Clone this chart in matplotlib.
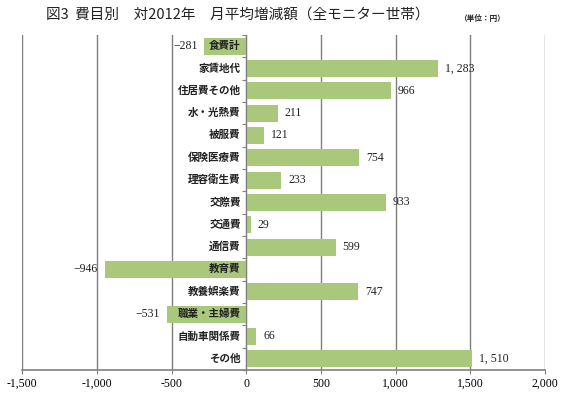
"""図3 費目別 対2012年 月平均増減額 — horizontal bar chart."""
import matplotlib
matplotlib.use("Agg")
import matplotlib.pyplot as plt
import numpy as np

plt.rcParams['font.family'] = ['Noto Sans CJK JP', 'DejaVu Sans']

CATEGORIES = ["食費計", "家賃地代", "住居費その他", "水・光熱費", "被服費",
              "保険医療費", "理容衛生費", "交際費", "交通費", "通信費",
              "教育費", "教養娯楽費", "職業・主婦費", "自動車関係費", "その他"]
VALUES = [-281, 1283, 966, 211, 121, 754, 233, 933, 29, 599,
          -946, 747, -531, 66, 1510]
XTICKS = [-1500, -1000, -500, 0, 500, 1000, 1500, 2000]
XTICK_LABELS = ["-1,500", "-1,000", "-500", "0", "500", "1,000", "1,500", "2,000"]

BAR_COLOR = "#a9c87b"
GRID_COLOR = "#7f7f7f"
SERIF = "Liberation Serif"

fig = plt.figure(figsize=(5.69, 3.96), dpi=100)
ax = fig.add_axes([0.039, 0.066, 0.919, 0.846])

y = np.arange(len(CATEGORIES))
ax.barh(y, VALUES, height=0.76, color=BAR_COLOR, zorder=2)

ax.set_xlim(XTICKS[0], XTICKS[-1])
ax.set_ylim(len(CATEGORIES) - 0.5, -0.5)

# vertical grid at each 500
ax.set_xticks(XTICKS)
ax.set_xticklabels(XTICK_LABELS, family=SERIF, fontsize=8.5)
ax.grid(axis="x", color=GRID_COLOR, linewidth=1.0, zorder=1)
ax.tick_params(axis="x", length=3, color=GRID_COLOR, pad=3)

# zero axis with boundary ticks
ax.spines["left"].set_position(("data", 0))
ax.spines["left"].set_color(GRID_COLOR)
ax.spines["left"].set_zorder(3)
ax.spines["bottom"].set_color(GRID_COLOR)
ax.spines["bottom"].set_linewidth(1.2)
ax.spines["top"].set_visible(False)
ax.spines["right"].set_visible(False)
ax.set_yticks(np.arange(len(CATEGORIES) + 1) - 0.5)
ax.set_yticklabels([])
ax.tick_params(axis="y", length=3, color=GRID_COLOR, direction="out")

for i, (cat, v) in enumerate(zip(CATEGORIES, VALUES)):
    ax.annotate(cat, xy=(0, i), xytext=(-4, 0), textcoords="offset points",
                ha="right", va="center", fontsize=7.6, fontweight="bold",
                color="#222222", zorder=4)
    label = f"{v:,}".replace(",", ", ")
    if v >= 0:
        ax.annotate(label, xy=(v, i), xytext=(5, 0), textcoords="offset points",
                    ha="left", va="center", fontsize=8.5, family=SERIF,
                    color="#222222")
    else:
        ax.annotate(label.replace("-", "−"), xy=(v, i), xytext=(-5, 0),
                    textcoords="offset points", ha="right", va="center",
                    fontsize=8.5, family=SERIF, color="#222222")

fig.text(0.417, 0.962, "図3  費目別　対2012年　月平均増減額（全モニター世帯）",
         ha="center", va="center", fontsize=10.5, color="#222222")
fig.text(0.848, 0.953, "（単位：円）", ha="center", va="center",
         fontsize=5.5, fontweight="bold", color="#222222")

fig.savefig("out.png", dpi=100)
